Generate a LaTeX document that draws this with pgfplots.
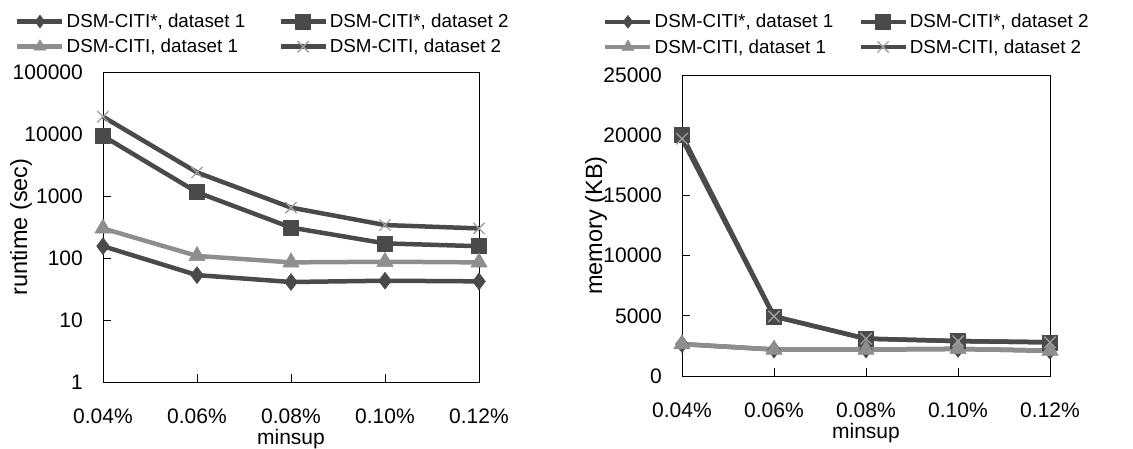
\documentclass[border=0pt]{standalone}
\usepackage{fontspec}
\setmainfont{Liberation Sans}
\usepackage{pgfplots}
\pgfplotsset{compat=1.18}
\definecolor{dk}{HTML}{4A4A4A}
\definecolor{lt}{HTML}{8E8E8E}
\definecolor{xm}{HTML}{A0A0A0}
\pgfplotsset{
 common/.style={
  scale only axis, clip=false,
  xmin=0, xmax=4, xtick={0,1,2,3,4},
  xticklabels={0.04\%,0.06\%,0.08\%,0.10\%,0.12\%},
  tick pos=left, major tick length=8pt,
  every tick/.style={black, line width=0.9pt},
  axis line style={black, line width=0.9pt},
  tick label style={font=\fontsize{21}{25}\selectfont},
  /pgf/number format/assume math mode=true,
  xticklabel style={anchor=north, inner sep=0pt, yshift=-27pt},
  yticklabel style={anchor=east, inner sep=0pt, xshift=-20pt},
  scaled y ticks=false,
  xlabel={minsup},
  every axis x label/.style={at={(axis description cs:0.5,0)}, anchor=center, inner sep=0pt, yshift=-57pt, font=\fontsize{21}{25}\selectfont},
  legend columns=2,
  legend cell align=left,
  legend image code/.code={\draw[mark repeat=2,mark phase=2,#1] plot coordinates {(0pt,0pt) (22.5pt,0pt) (45pt,0pt)};},
 },
 sA/.style={color=dk, line width=4.5pt, line join=round, mark=diamond*, mark size=8.5pt, mark options={solid, fill=dk, draw=dk, line width=0.5pt}, legend image post style={mark size=6.5pt}},
 sB/.style={color=dk, line width=4.5pt, line join=round, mark=square*, mark size=7.5pt, mark options={solid, fill=dk, draw=dk, line width=0.5pt}},
 sC/.style={color=lt, line width=4.5pt, line join=round, mark=triangle*, mark size=9.5pt, mark options={solid, fill=lt, draw=lt, line width=0.5pt}, legend image post style={mark size=7pt}},
 sD/.style={color=dk, line width=4.5pt, line join=round, mark=x, mark size=8pt, mark options={solid, draw=xm, line width=1.3pt}},
}
\begin{document}
\begin{tikzpicture}
\useasboundingbox (0,0) rectangle (1133pt,448pt);
\begin{axis}[common,
  at={(103pt,66pt)}, anchor=south west,
  width=376pt, height=310pt,
  ymode=log, ymin=1, ymax=100000,
  ytick={1,10,100,1000,10000,100000},
  yticklabels={1,10,100,1000,10000,100000},
  yminorticks=false,
  ylabel={runtime (sec)},
  every axis y label/.style={at={([xshift=-82pt]axis description cs:0,0.5)}, rotate=90, anchor=center, font=\fontsize{23.5}{27}\selectfont},
  legend style={at={(-0.234,1.194)}, anchor=north west, draw=none, fill=none, inner sep=0pt,
    font=\fontsize{18.8}{22}\selectfont, row sep=6pt, nodes={inner sep=2pt},
    /tikz/every even column/.append style={column sep=31pt}},
]
\addplot[sA] coordinates {(0,155) (1,53) (2,41) (3,43) (4,42)};
\addlegendentry{DSM-CITI*, dataset 1}
\addplot[sB] coordinates {(0,9300) (1,1150) (2,310) (3,172) (4,155)};
\addlegendentry{DSM-CITI*, dataset 2}
\addplot[sC] coordinates {(0,300) (1,108) (2,85) (3,87) (4,85)};
\addlegendentry{DSM-CITI, dataset 1}
\addplot[sD] coordinates {(0,19000) (1,2400) (2,650) (3,340) (4,300)};
\addlegendentry{DSM-CITI, dataset 2}
\end{axis}
\begin{axis}[common,
  at={(682pt,72pt)}, anchor=south west,
  width=368pt, height=301pt,
  ymin=0, ymax=25000,
  ytick={0,5000,10000,15000,20000,25000},
  yticklabels={0,5000,10000,15000,20000,25000},
  ylabel={memory (KB)},
  every axis y label/.style={at={([xshift=-86pt]axis description cs:0,0.5)}, rotate=90, anchor=center, font=\fontsize{23.5}{27}\selectfont},
  legend style={at={(-0.2147,1.209)}, anchor=north west, draw=none, fill=none, inner sep=0pt,
    font=\fontsize{18.8}{22}\selectfont, row sep=6pt, nodes={inner sep=2pt},
    /tikz/every even column/.append style={column sep=23pt}},
]
\addplot[sA] coordinates {(0,2650) (1,2200) (2,2200) (3,2250) (4,2100)};
\addlegendentry{DSM-CITI*, dataset 1}
\addplot[sB] coordinates {(0,20000) (1,4950) (2,3100) (3,2900) (4,2800)};
\addlegendentry{DSM-CITI*, dataset 2}
\addplot[sC] coordinates {(0,2650) (1,2200) (2,2200) (3,2250) (4,2100)};
\addlegendentry{DSM-CITI, dataset 1}
\addplot[sD] coordinates {(0,19700) (1,4950) (2,3100) (3,2900) (4,2800)};
\addlegendentry{DSM-CITI, dataset 2}
\end{axis}
\end{tikzpicture}
\end{document}
